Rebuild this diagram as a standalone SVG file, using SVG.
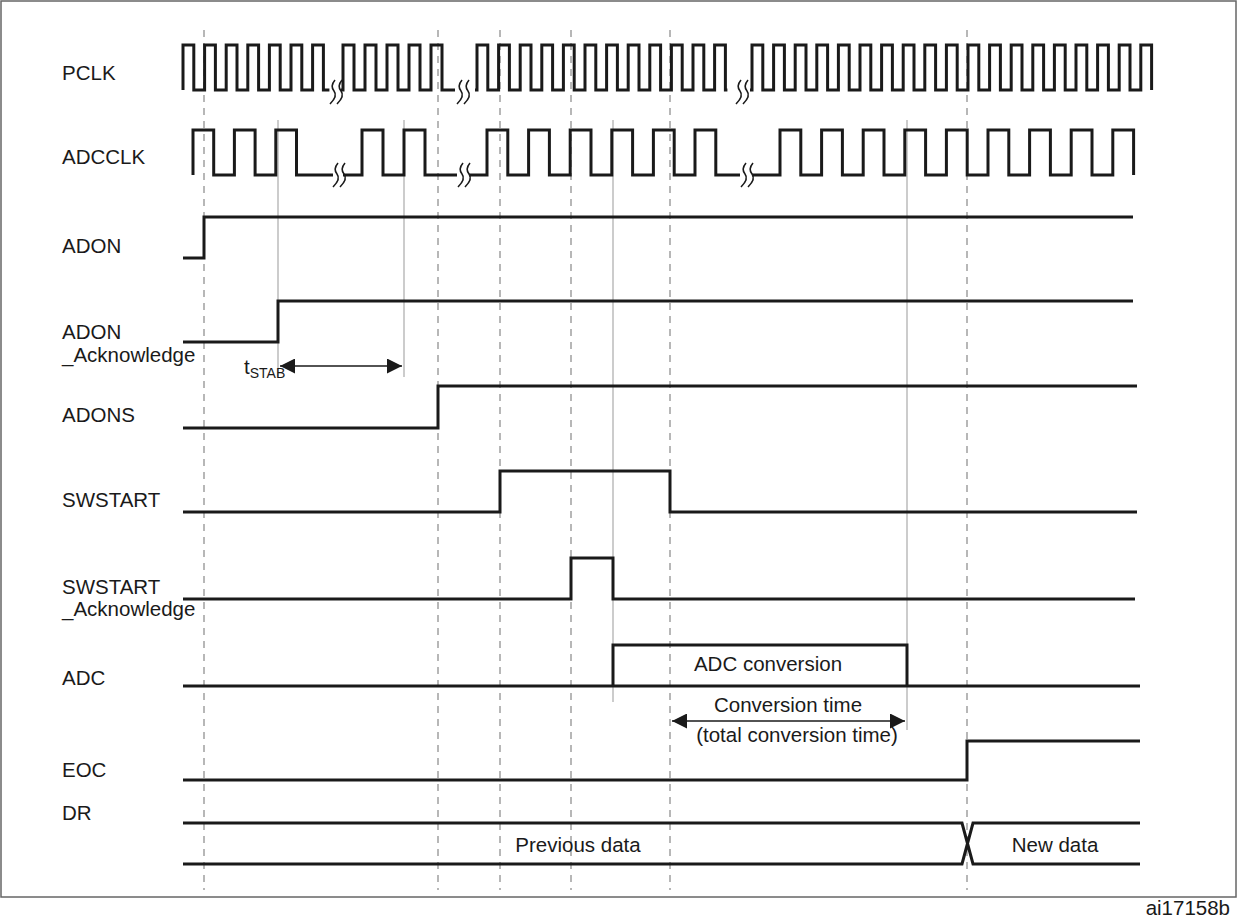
<svg xmlns="http://www.w3.org/2000/svg" width="1237" height="922" viewBox="0 0 1237 922">
<style>
.sig{fill:none;stroke:#1a1a1a;stroke-width:3;stroke-linejoin:miter}
.sq{fill:none;stroke:#1a1a1a;stroke-width:1.6}
.dash{stroke:#999;stroke-width:1.4;stroke-dasharray:7,6}
.thin{stroke:#aaa;stroke-width:1.2}
.arr{stroke:#1a1a1a;stroke-width:1.5;marker-start:url(#a);marker-end:url(#a)}
text{font-family:"Liberation Sans",Arial,sans-serif;font-size:20.5px;fill:#1a1a1a}
</style>
<defs>
<marker id="a" viewBox="0 0 10 10" refX="10" refY="5" markerWidth="20" markerHeight="15" markerUnits="userSpaceOnUse" orient="auto-start-reverse"><path d="M0,0L10,5L0,10z" fill="#1a1a1a"/></marker>
</defs>
<rect x="1" y="1" width="1235" height="896" fill="#fff" stroke="#666" stroke-width="1.5"/>
<g id="guides">
<line class="dash" x1="204" y1="30" x2="204" y2="890"/>
<line class="dash" x1="438" y1="30" x2="438" y2="890"/>
<line class="dash" x1="500" y1="30" x2="500" y2="890"/>
<line class="dash" x1="571" y1="30" x2="571" y2="890"/>
<line class="dash" x1="670" y1="30" x2="670" y2="890"/>
<line class="dash" x1="967" y1="30" x2="967" y2="890"/>
<line class="thin" x1="278" y1="120" x2="278" y2="377"/>
<line class="thin" x1="404" y1="120" x2="404" y2="377"/>
<line class="thin" x1="613" y1="120" x2="613" y2="702"/>
<line class="thin" x1="907" y1="120" x2="907" y2="730"/>
</g>
<g id="labels">
<text x="62" y="80">PCLK</text>
<text x="62" y="164">ADCCLK</text>
<text x="62" y="253">ADON</text>
<text x="62" y="339">ADON</text>
<text x="62" y="362">_Acknowledge</text>
<text x="62" y="422">ADONS</text>
<text x="62" y="507">SWSTART</text>
<text x="62" y="594">SWSTART</text>
<text x="62" y="616">_Acknowledge</text>
<text x="62" y="685">ADC</text>
<text x="62" y="777">EOC</text>
<text x="62" y="820">DR</text>
<text x="1230" y="915" text-anchor="end" font-size="16">ai17158b</text>
</g>
<g id="pclk">
<path class="sig" d="M183,90 v-45 h10.8 v45 h10.8 v-45 h10.8 v45 h10.8 v-45 h10.8 v45 h10.8 v-45 h10.8 v45 h10.8 v-45 h10.8 v45 h10.8 v-45 h10.8 v45 h10.8 v-45 h10.8 v45 h6"/>
<path class="sig" d="M341,90 h2 v-45 h11 v45 h11 v-45 h11 v45 h11 v-45 h11 v45 h11 v-45 h11 v45 h11 v-45 h11 v45 h13"/>
<path class="sig" d="M475,90 h2 v-45 h10.8 v45 h10.8 v-45 h10.8 v45 h10.8 v-45 h10.8 v45 h10.8 v-45 h10.8 v45 h10.8 v-45 h10.8 v45 h10.8 v-45 h10.8 v45 h10.8 v-45 h10.8 v45 h10.8 v-45 h10.8 v45 h10.8 v-45 h10.8 v45 h10.8 v-45 h10.8 v45 h10.8 v-45 h10.8 v45 h10.8 v-45 h10.8 v45 h2"/>
<path class="sig" d="M750,90 h2 v-45 h10.8 v45 h10.8 v-45 h10.8 v45 h10.8 v-45 h10.8 v45 h10.8 v-45 h10.8 v45 h10.8 v-45 h10.8 v45 h10.8 v-45 h10.8 v45 h10.8 v-45 h10.8 v45 h10.8 v-45 h10.8 v45 h10.8 v-45 h10.8 v45 h10.8 v-45 h10.8 v45 h10.8 v-45 h10.8 v45 h10.8 v-45 h10.8 v45 h10.8 v-45 h10.8 v45 h10.8 v-45 h10.8 v45 h10.8 v-45 h10.8 v45 h10.8 v-45 h10.8 v45 h10.8 v-45 h10.8 v45 h10.8 v-45 h10.8 v45 h10.8 v-45 h10.8 v45"/>
<path class="sq" d="M335,80 q-5,6 -1,11 t-4,13 M342,80 q-5,6 -1,11 t-4,13"/>
<path class="sq" d="M462,80 q-5,6 -1,11 t-4,13 M469,80 q-5,6 -1,11 t-4,13"/>
<path class="sq" d="M741,80 q-5,6 -1,11 t-4,13 M748,80 q-5,6 -1,11 t-4,13"/>
</g>
<g id="adcclk">
<path class="sig" d="M193,175 v-45 h20.7 v45 h20.7 v-45 h20.7 v45 h20.7 v-45 h20.7 v45 H333"/>
<path class="sig" d="M343,175 H362 v-45 h21 v45 h21 v-45 h21 v45 H457"/>
<path class="sig" d="M469,175 H487 v-45 h20.8 v45 h20.8 v-45 h20.8 v45 h20.8 v-45 h20.8 v45 h20.8 v-45 h20.8 v45 h20.8 v-45 h20.8 v45 h20.8 v-45 h20.8 v45 H740"/>
<path class="sig" d="M752,175 H780 v-45 h20.8 v45 h20.8 v-45 h20.8 v45 h20.8 v-45 h20.8 v45 h20.8 v-45 h20.8 v45 h20.8 v-45 h20.8 v45 h20.8 v-45 h20.8 v45 h20.8 v-45 h20.8 v45 h20.8 v-45 h20.8 v45 h20.8 v-45 h20.8 v45"/>
<path class="sq" d="M338,163 q-5,6 -1,11 t-4,13 M345,163 q-5,6 -1,11 t-4,13"/>
<path class="sq" d="M463,163 q-5,6 -1,11 t-4,13 M470,163 q-5,6 -1,11 t-4,13"/>
<path class="sq" d="M746,163 q-5,6 -1,11 t-4,13 M753,163 q-5,6 -1,11 t-4,13"/>
</g>
<g id="adon"><path class="sig" d="M183,258 H204 V217 H1133"/></g>
<g id="adon_ack"><path class="sig" d="M183,342 H278 V301 H1133"/></g>
<g id="tstab">
<line class="arr" x1="280" y1="366" x2="402" y2="366"/>
<text x="244" y="374">t<tspan font-size="14" dy="4">STAB</tspan></text>
</g>
<g id="adons"><path class="sig" d="M183,428 H438 V386 H1137"/></g>
<g id="swstart"><path class="sig" d="M183,512 H500 V471 H670 V512 H1137"/></g>
<g id="swstart_ack"><path class="sig" d="M183,599 H571 V558 H613 V599 H1135"/></g>
<g id="adc">
<path class="sig" d="M183,686 H1140 M613,686 V645 H907 V686"/>
<text x="768" y="671" text-anchor="middle">ADC conversion</text>
</g>
<g id="convtime">
<line class="arr" x1="672" y1="721" x2="905" y2="721"/>
<text x="788" y="712" text-anchor="middle">Conversion time</text>
<text x="797" y="742" text-anchor="middle">(total conversion time)</text>
</g>
<g id="eoc"><path class="sig" d="M183,780 H967 V741 H1140"/></g>
<g id="dr">
<path class="sig" d="M183,823 H962 L973,864 H1140 M183,864 H962 L973,823 H1140"/>
<text x="578" y="852" text-anchor="middle">Previous data</text>
<text x="1055" y="852" text-anchor="middle">New data</text>
</g>
</svg>
